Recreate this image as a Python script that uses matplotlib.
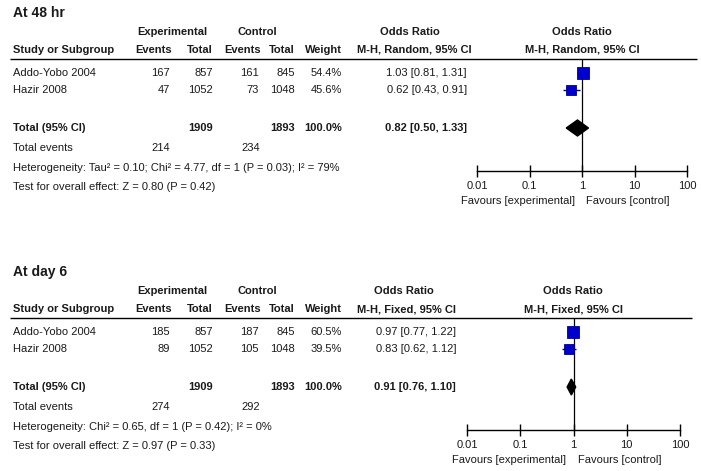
import numpy as np
import matplotlib
matplotlib.use("Agg")
import matplotlib.pyplot as plt

plt.rcParams['font.family'] = ['Liberation Sans', 'DejaVu Sans']

# data
studies = ["Addo-Yobo 2004", "Hazir 2008"]

h48_exp_events = [167, 47]
h48_exp_total = [857, 1052]
h48_ctl_events = [161, 73]
h48_ctl_total = [845, 1048]
h48_weight = [54.4, 45.6]
h48_or = [1.03, 0.62]
h48_lo = [0.81, 0.43]
h48_hi = [1.31, 0.91]
h48_pooled = [0.82, 0.50, 1.33]
h48_het = "Heterogeneity: Tau² = 0.10; Chi² = 4.77, df = 1 (P = 0.03); I² = 79%"
h48_test = "Test for overall effect: Z = 0.80 (P = 0.42)"

d6_exp_events = [185, 89]
d6_exp_total = [857, 1052]
d6_ctl_events = [187, 105]
d6_ctl_total = [845, 1048]
d6_weight = [60.5, 39.5]
d6_or = [0.97, 0.83]
d6_lo = [0.77, 0.62]
d6_hi = [1.22, 1.12]
d6_pooled = [0.91, 0.76, 1.10]
d6_het = "Heterogeneity: Chi² = 0.65, df = 1 (P = 0.42); I² = 0%"
d6_test = "Test for overall effect: Z = 0.97 (P = 0.33)"

tick_vals = [0.01, 0.1, 1, 10, 100]
tick_labels = ["0.01", "0.1", "1", "10", "100"]

W, H = 701, 471
fig = plt.figure(figsize=(W / 100, H / 100), dpi=100)
ax = fig.add_axes([0, 0, 1, 1])
ax.set_xlim(0, W)
ax.set_ylim(H, 0)
ax.axis("off")

TXT = "#1a1a1a"
FS = 8


def t(x, y, s, ha="left", bold=False, size=FS):
    ax.text(x, y, s, ha=ha, va="center", fontsize=size, color=TXT,
            fontweight="bold" if bold else "normal")


def draw_panel(title, method, exp_ev, exp_tot, ctl_ev, ctl_tot, weight,
               ors, lo, hi, pooled, het, test, y0, ax_left, ax_right,
               or_right, or_hdr_x, plot_hdr_x, line_end):
    # table header
    t(13, y0, title, bold=True, size=10)
    t(172, y0 + 19, "Experimental", ha="center", bold=True)
    t(257, y0 + 19, "Control", ha="center", bold=True)
    t(or_hdr_x, y0 + 19, "Odds Ratio", ha="center", bold=True)
    t(plot_hdr_x, y0 + 19, "Odds Ratio", ha="center", bold=True)
    hy = y0 + 37
    t(13, hy, "Study or Subgroup", bold=True)
    t(172, hy, "Events", ha="right", bold=True)
    t(213, hy, "Total", ha="right", bold=True)
    t(261, hy, "Events", ha="right", bold=True)
    t(295, hy, "Total", ha="right", bold=True)
    t(342, hy, "Weight", ha="right", bold=True)
    t(357, hy, "M-H, " + method + ", 95% CI", bold=True)
    t(plot_hdr_x, hy, "M-H, " + method + ", 95% CI", ha="center", bold=True)
    ax.hlines(y0 + 46, 10, line_end, color="black", lw=1.0)

    rows_y = [y0 + 60, y0 + 77]
    for i, name in enumerate(studies):
        y = rows_y[i]
        t(13, y, name)
        t(170, y, str(exp_ev[i]), ha="right")
        t(213, y, str(exp_tot[i]), ha="right")
        t(259, y, str(ctl_ev[i]), ha="right")
        t(295, y, str(ctl_tot[i]), ha="right")
        t(342, y, "%.1f%%" % weight[i], ha="right")
        t(or_right, y, "%.2f [%.2f, %.2f]" % (ors[i], lo[i], hi[i]), ha="right")

    ty = y0 + 115
    t(13, ty, "Total (95% CI)", bold=True)
    t(213, ty, str(sum(exp_tot)), ha="right", bold=True)
    t(295, ty, str(sum(ctl_tot)), ha="right", bold=True)
    t(342, ty, "100.0%", ha="right", bold=True)
    t(or_right, ty, "%.2f [%.2f, %.2f]" % tuple(pooled), ha="right", bold=True)
    t(13, y0 + 135, "Total events")
    t(170, y0 + 135, str(sum(exp_ev)), ha="right")
    t(260, y0 + 135, str(sum(ctl_ev)), ha="right")
    t(13, y0 + 155, het)
    t(13, y0 + 174, test)

    # forest plot
    fx = fig.add_axes([ax_left / W, 0, (ax_right - ax_left) / W, 1])
    fx.patch.set_visible(False)
    fx.set_xscale("log")
    fx.set_xlim(0.01, 100)
    fx.set_ylim(H, 0)
    for s in ["top", "left", "right"]:
        fx.spines[s].set_visible(False)
    axis_y = y0 + 158
    fx.spines["bottom"].set_position(("data", axis_y))
    fx.spines["bottom"].set_linewidth(1.0)
    fx.set_yticks([])
    fx.set_xticks(tick_vals)
    fx.set_xticklabels(tick_labels)
    fx.minorticks_off()
    fx.tick_params(axis="x", direction="inout", length=9, width=1.0,
                   labelsize=FS, labelcolor=TXT, pad=3)
    fx.vlines(1, y0 + 46, axis_y, color="black", lw=0.9)

    for i in range(len(studies)):
        y = rows_y[i]
        fx.hlines(y, lo[i], hi[i], color="#00008b", lw=1.0)
        fx.plot(ors[i], y, marker="s", ms=4 + weight[i] * 0.08,
                mfc="#0000cc", mec="#00008b", mew=0.6, ls="none")

    est, plo, phi = pooled
    fx.fill([plo, est, phi, est], [ty, ty - 8, ty, ty + 8], color="black")

    mid = fx.transData.transform((1, 0))[0]
    mid_px = mid
    fig_h = fig.get_size_inches()[1] * fig.dpi
    fav_y = y0 + 188
    ax.text(mid_px - 7, fav_y, "Favours [experimental]", ha="right",
            va="center", fontsize=FS, color=TXT)
    ax.text(mid_px + 4, fav_y, "Favours [control]", ha="left",
            va="center", fontsize=FS, color=TXT)


draw_panel("At 48 hr", "Random", h48_exp_events, h48_exp_total,
           h48_ctl_events, h48_ctl_total, h48_weight, h48_or, h48_lo, h48_hi,
           h48_pooled, h48_het, h48_test, 13, 477, 687, 467, 410, 582, 697)
draw_panel("At day 6", "Fixed", d6_exp_events, d6_exp_total,
           d6_ctl_events, d6_ctl_total, d6_weight, d6_or, d6_lo, d6_hi,
           d6_pooled, d6_het, d6_test, 272, 467, 680, 456, 404, 573, 692)

fig.savefig("out.png", dpi=100)
